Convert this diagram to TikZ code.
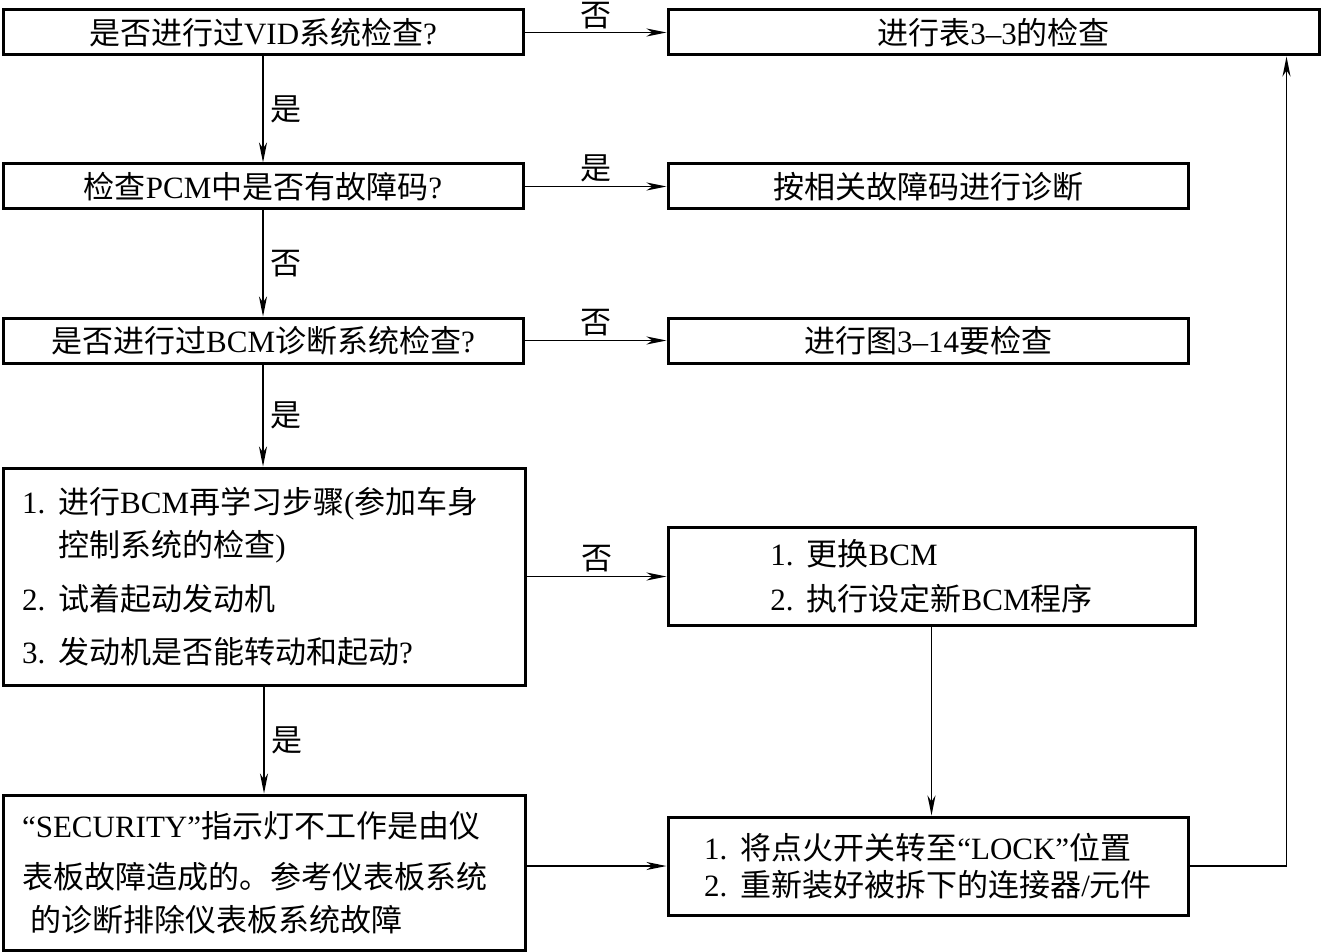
\documentclass[tikz,border=0pt]{standalone}
\usepackage{fontspec}
\setmainfont{Liberation Serif}
\newfontfamily\cjk{Noto Sans CJK SC}
\usetikzlibrary{arrows.meta}
\newcommand\en[1]{{\rmfamily #1}}
\newcommand\num[1]{\en{#1.}\hspace{6.5pt}}
\tikzset{
  box/.style={draw, line width=1.5pt, inner sep=0pt, minimum height=22.5pt,
    font=\cjk\fontsize{15.5}{21.5}\selectfont},
  lbl/.style={font=\cjk\fontsize{15.5}{18}\selectfont},
  flow/.style={->, line width=0.8pt},
}
\begin{document}
\begin{tikzpicture}[x=0.5pt, y=-0.5pt, >={Stealth[length=10pt, width=4pt, inset=3pt]}]
        \useasboundingbox (0,0) rectangle (1322,952);
        % 1. Left column: questions
        \node[box, minimum width=260pt] (vid) at (263,32.5) {是否进行过\en{VID}系统检查\en{?}};
        \node[box, minimum width=260pt] (pcm) at (263,186.5) {检查\en{PCM}中是否有故障码\en{?}};
        \node[box, minimum width=260pt] (bcm) at (263,340.5) {是否进行过\en{BCM}诊断系统检查\en{?}};
        \node[box, minimum height=108.5pt, text width=242pt, inner xsep=9.5pt, align=left] (relearn) at (264,576.5)
            {\num{1}进行\en{BCM}再学习步骤\en{(}参加车身\\
             \hphantom{\num{1}}控制系统的检查\en{)}\\[5.5pt]
             \num{2}试着起动发动机\\[5pt]
             \num{3}发动机是否能转动和起动\en{?}};
        \node[box, minimum height=77.5pt, text width=242pt, inner xsep=9.5pt, align=left] (sec) at (264,872.5)
            {\en{“SECURITY”}指示灯不工作是由仪\\[4pt]
             表板故障造成的。参考仪表板系统\\
             \hspace*{4pt}的诊断排除仪表板系统故障};

        % 2. Right column: actions
        \node[box, minimum width=325.5pt] (tab) at (993.5,32.5) {进行表\en{3--3}的检查};
        \node[box, minimum width=260pt] (dtc) at (928,186.5) {按相关故障码进行诊断};
        \node[box, minimum width=260pt] (fig) at (928,340.5) {进行图\en{3--14}要检查};
        \node[box, minimum width=263.5pt, minimum height=49pt, align=left] (repl) at (931.5,576)
            {\num{1}更换\en{BCM}\\[1pt]
             \num{2}执行设定新\en{BCM}程序};
        \node[box, minimum width=260pt, minimum height=49pt, align=left] (lock) at (928,866)
            {\num{1}将点火开关转至\en{“LOCK”}位置\\[-3pt]
             \num{2}重新装好被拆下的连接器\en{/}元件};

        % 3. Vertical connectors
        \draw[flow] (vid) -- node[lbl, right] {是} (pcm);
        \draw[flow] (pcm) -- node[lbl, right] {否} (bcm);
        \draw[flow] (bcm.south) -- node[lbl, right] {是} (bcm.south |- relearn.north);
        \draw[flow] (relearn) -- node[lbl, right] {是} (sec);
        \draw[flow] (repl) -- (repl.south |- lock.north);

        % 4. Horizontal connectors
        \draw[flow] (vid) -- node[lbl, above, inner sep=1.5pt] {否} (tab);
        \draw[flow] (pcm) -- node[lbl, above, inner sep=2pt] {是} (dtc);
        \draw[flow] (bcm) -- node[lbl, above, inner sep=2pt] {否} (fig);
        \draw[flow] (relearn.east) -- node[lbl, above, inner sep=2pt] {否} (relearn.east -| repl.west);
        \draw[flow] (sec.east |- lock.west) -- (lock.west);

        % 5. Back to the top
        \draw[flow] (lock.east) -| ([xshift=-17pt]tab.south east);
\end{tikzpicture}
\end{document}
